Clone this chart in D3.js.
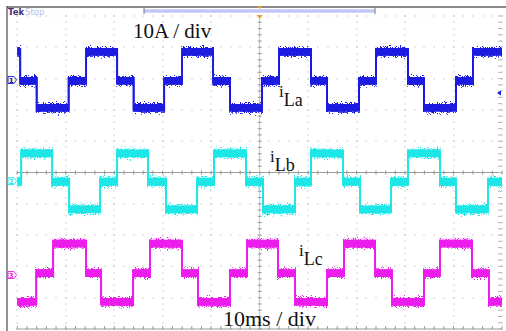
<!DOCTYPE html>
<html>
<head>
<meta charset="utf-8">
<script src="https://cdn.jsdelivr.net/npm/d3@7"></script>
<style>
  body { margin: 0; background: #fff; }
  svg { display: block; }
  .lbl { font-family: "Liberation Serif", "Times New Roman", serif; fill: #111; }
</style>
</head>
<body>
<div id="scope"></div>
<script>
// scope settings
var msPerDiv = 10, ampPerDiv = 10;

// channel 1 (iLa) : step start times (ms) and current (A)
var tA = [0, 0.6, 4.0, 10.6, 14.2, 20.6, 24.0, 30.3, 34.0, 40.4, 43.9, 50.5, 54.0, 60.6, 63.9, 70.5, 74.0, 80.6, 83.9, 90.5, 94.0, 100];
var iA = [9, -0.3, -8.9, -0.3, 9, -0.3, -8.9, -0.3, 9, -0.3, -8.9, -0.3, 9, -0.3, -8.9, -0.3, 9, -0.3, -8.9, -0.3, 9, 9];

// channel 2 (iLb)
var tB = [0, 0.8, 7.2, 10.7, 17.1, 20.6, 27.0, 30.7, 37.1, 40.6, 47.2, 50.7, 57.3, 60.6, 67.2, 70.7, 77.1, 80.6, 87.2, 90.5, 97.1, 100];
var iB = [-0.2, 8.85, -0.2, -9, -0.2, 8.85, -0.2, -9, -0.2, 8.85, -0.2, -9, -0.2, 8.85, -0.2, -9, -0.2, 8.85, -0.2, -9, -0.2, -0.2];

// channel 3 (iLc)
var tC = [0, 3.9, 7.4, 14.2, 17.3, 23.9, 27.4, 34.0, 37.3, 43.9, 47.4, 53.8, 57.3, 63.9, 67.4, 73.8, 77.3, 83.9, 87.2, 93.8, 97.3, 100];
var iC = [-8.6, 0.6, 10, 0.6, -8.6, 0.6, 10, 0.6, -8.6, 0.6, 10, 0.6, -8.6, 0.6, 10, 0.6, -8.6, 0.6, 10, 0.6, -8.6, -8.6];

// ground offsets on screen (A, 10 A/div)
var channelNames = ["1", "2", "3"];
var channelOffsets = [29.55, -2.75, -32.75];
var channelColors = ["#1a1ae0", "#1de6e6", "#ec1cec"];
var channelLabels = ["La", "Lb", "Lc"];

var W = 506, H = 331;
var svg = d3.select("#scope").append("svg").attr("width", W).attr("height", H);

var x = d3.scaleLinear().domain([0, 10 * msPerDiv]).range([17.3, 502]);
var y = d3.scaleLinear().domain([-5 * ampPerDiv, 5 * ampPerDiv]).range([329, 16]);

// trace fuzz: widen vertically only, then rough up the edges
var defs = svg.append("defs");
var f = defs.append("filter").attr("id", "fuzz")
    .attr("filterUnits", "userSpaceOnUse").attr("x", 0).attr("y", 0).attr("width", W).attr("height", H);
f.append("feMorphology").attr("in", "SourceGraphic").attr("operator", "dilate")
    .attr("radius", "0 2.5").attr("result", "fat");
f.append("feTurbulence").attr("type", "fractalNoise").attr("baseFrequency", "1.3 0.9")
    .attr("numOctaves", 2).attr("seed", 7).attr("result", "n");
f.append("feColorMatrix").attr("in", "n").attr("type", "matrix")
    .attr("values", "0 0 0 0 0.5  0 1.8 0 0 -0.4  0 0 1 0 0  0 0 0 0 1").attr("result", "nm");
f.append("feDisplacementMap").attr("in", "fat").attr("in2", "nm")
    .attr("scale", 7).attr("xChannelSelector", "R").attr("yChannelSelector", "G").attr("result", "rough");
var fm = f.append("feMerge");
fm.append("feMergeNode").attr("in", "rough");
fm.append("feMergeNode").attr("in", "fat");

// frame
svg.append("line").attr("x1", 7).attr("x2", W).attr("y1", 7).attr("y2", 7)
    .attr("stroke", "#8a8a8a").attr("stroke-width", 2);
svg.append("line").attr("x1", 7).attr("x2", 7).attr("y1", 6).attr("y2", H)
    .attr("stroke", "#4a4a4a").attr("stroke-width", 1.2);

// record bar
svg.append("rect").attr("x", 144).attr("y", 9.5).attr("width", 231).attr("height", 3)
    .attr("fill", "#a9aef0");
svg.append("line").attr("x1", 144).attr("x2", 375).attr("y1", 11).attr("y2", 11)
    .attr("stroke", "#e8eaff").attr("stroke-width", 0.8);
[144, 375].forEach(function (xx) {
    svg.append("line").attr("x1", xx).attr("x2", xx).attr("y1", 7).attr("y2", 14)
        .attr("stroke", "#777").attr("stroke-width", 1);
});

svg.append("text").attr("x", 8).attr("y", 15).text("Tek")
    .attr("font-family", "DejaVu Sans, sans-serif").attr("font-size", 8.5).attr("font-weight", "bold")
    .attr("fill", "#4b2a78");
svg.append("text").attr("x", 25).attr("y", 15).text("Stop")
    .attr("font-family", "DejaVu Sans, sans-serif").attr("font-size", 8.5)
    .attr("fill", "#b3bcee");

// graticule
var grid = svg.append("g").attr("fill", "#aaaaaa");
var majorT = d3.range(0, 100.01, msPerDiv), minorT = d3.range(0, 100.01, msPerDiv / 5);
var majorA = d3.range(-50, 50.01, ampPerDiv), minorA = d3.range(-50, 50.01, ampPerDiv / 5);

majorT.forEach(function (t) {
    grid.selectAll(null).data(minorA).enter().append("rect")
        .attr("x", Math.round(x(t)) - 0.5).attr("y", function (a) { return Math.round(y(a)) - 0.5; })
        .attr("width", 1).attr("height", 1);
});
majorA.forEach(function (a) {
    grid.selectAll(null).data(minorT).enter().append("rect")
        .attr("x", function (t) { return Math.round(x(t)) - 0.5; }).attr("y", Math.round(y(a)) - 0.5)
        .attr("width", 1).attr("height", 1);
});

var axisCol = "#9a9a9a";
// centre horizontal
svg.append("line").attr("x1", x(0)).attr("x2", x(100)).attr("y1", y(0)).attr("y2", y(0))
    .attr("stroke", axisCol).attr("stroke-width", 1);
svg.append("g").selectAll("line").data(minorT).enter().append("line")
    .attr("x1", function (t) { return x(t); }).attr("x2", function (t) { return x(t); })
    .attr("y1", y(0) - 2).attr("y2", y(0) + 2).attr("stroke", axisCol);
// centre vertical
svg.append("line").attr("x1", x(50)).attr("x2", x(50)).attr("y1", y(50)).attr("y2", y(-50))
    .attr("stroke", "#c4c4c4").attr("stroke-width", 1);
svg.append("g").selectAll("line").data(minorA).enter().append("line")
    .attr("x1", x(50) - 2).attr("x2", x(50) + 2)
    .attr("y1", function (a) { return y(a); }).attr("y2", function (a) { return y(a); })
    .attr("stroke", axisCol);
// bottom edge
svg.append("line").attr("x1", x(0)).attr("x2", x(100)).attr("y1", y(-50)).attr("y2", y(-50))
    .attr("stroke", axisCol).attr("stroke-width", 1);
svg.append("g").selectAll("line").data(minorT).enter().append("line")
    .attr("x1", function (t) { return x(t); }).attr("x2", function (t) { return x(t); })
    .attr("y1", y(-50) - 3).attr("y2", y(-50)).attr("stroke", axisCol);
// right edge ticks
svg.append("g").selectAll("line").data(minorA).enter().append("line")
    .attr("x1", x(100) - 4).attr("x2", x(100))
    .attr("y1", function (a) { return y(a); }).attr("y2", function (a) { return y(a); })
    .attr("stroke", "#b5b5b5");

// traces
var series = [[tA, iA], [tB, iB], [tC, iC]];
series.forEach(function (s, k) {
    var pts = s[0].map(function (t, i) { return [t, s[1][i] + channelOffsets[k]]; });
    var line = d3.line().x(function (d) { return x(d[0]); }).y(function (d) { return y(d[1]); })
        .curve(d3.curveStepAfter);
    svg.append("path").attr("d", line(pts)).attr("fill", "none")
        .attr("stroke", channelColors[k]).attr("stroke-width", 1.8).attr("filter", "url(#fuzz)");
});

// ground markers
channelOffsets.forEach(function (off, k) {
    var gy = y(off);
    var g = svg.append("g").attr("transform", "translate(8," + gy + ")");
    g.append("path").attr("d", "M0,-3.5 L6,-3.5 L8.5,0 L6,3.5 L0,3.5 Z")
        .attr("fill", k === 0 ? "#f4f2d8" : "#fff").attr("stroke", channelColors[k]).attr("stroke-width", 0.9);
    g.append("text").attr("x", 3.3).attr("y", 2.6).attr("text-anchor", "middle")
        .attr("font-family", "DejaVu Sans, sans-serif").attr("font-size", 7).attr("font-weight", "bold")
        .attr("fill", k === 0 ? "#22228a" : channelColors[k]).text(channelNames[k]);
});

// trigger markers
svg.append("path").attr("d", "M" + (x(50) - 2.5) + ",6 L" + (x(50) + 2.5) + ",6 L" + x(50) + ",9 Z").attr("fill", "#f0a030");
svg.append("path").attr("d", "M" + (x(50) - 3) + ",15 L" + (x(50) + 3) + ",15 L" + x(50) + ",19 Z").attr("fill", "#f0a030");
svg.append("path").attr("d", "M497,93 L501,90.5 L501,95.5 Z").attr("fill", channelColors[0]);

// annotations
svg.append("text").attr("class", "lbl").attr("x", 133).attr("y", 38).attr("font-size", 21).text("10A / div");
svg.append("text").attr("class", "lbl").attr("x", 223).attr("y", 326).attr("font-size", 22).text("10ms / div");

var labelPos = [[279, 97], [270, 162], [299, 256]];
labelPos.forEach(function (p, k) {
    var t = svg.append("text").attr("class", "lbl").attr("x", p[0]).attr("y", p[1]).attr("font-size", 17);
    t.append("tspan").text("i");
    t.append("tspan").attr("dy", 9).attr("font-size", 18).text(channelLabels[k]);
});
</script>
</body>
</html>
